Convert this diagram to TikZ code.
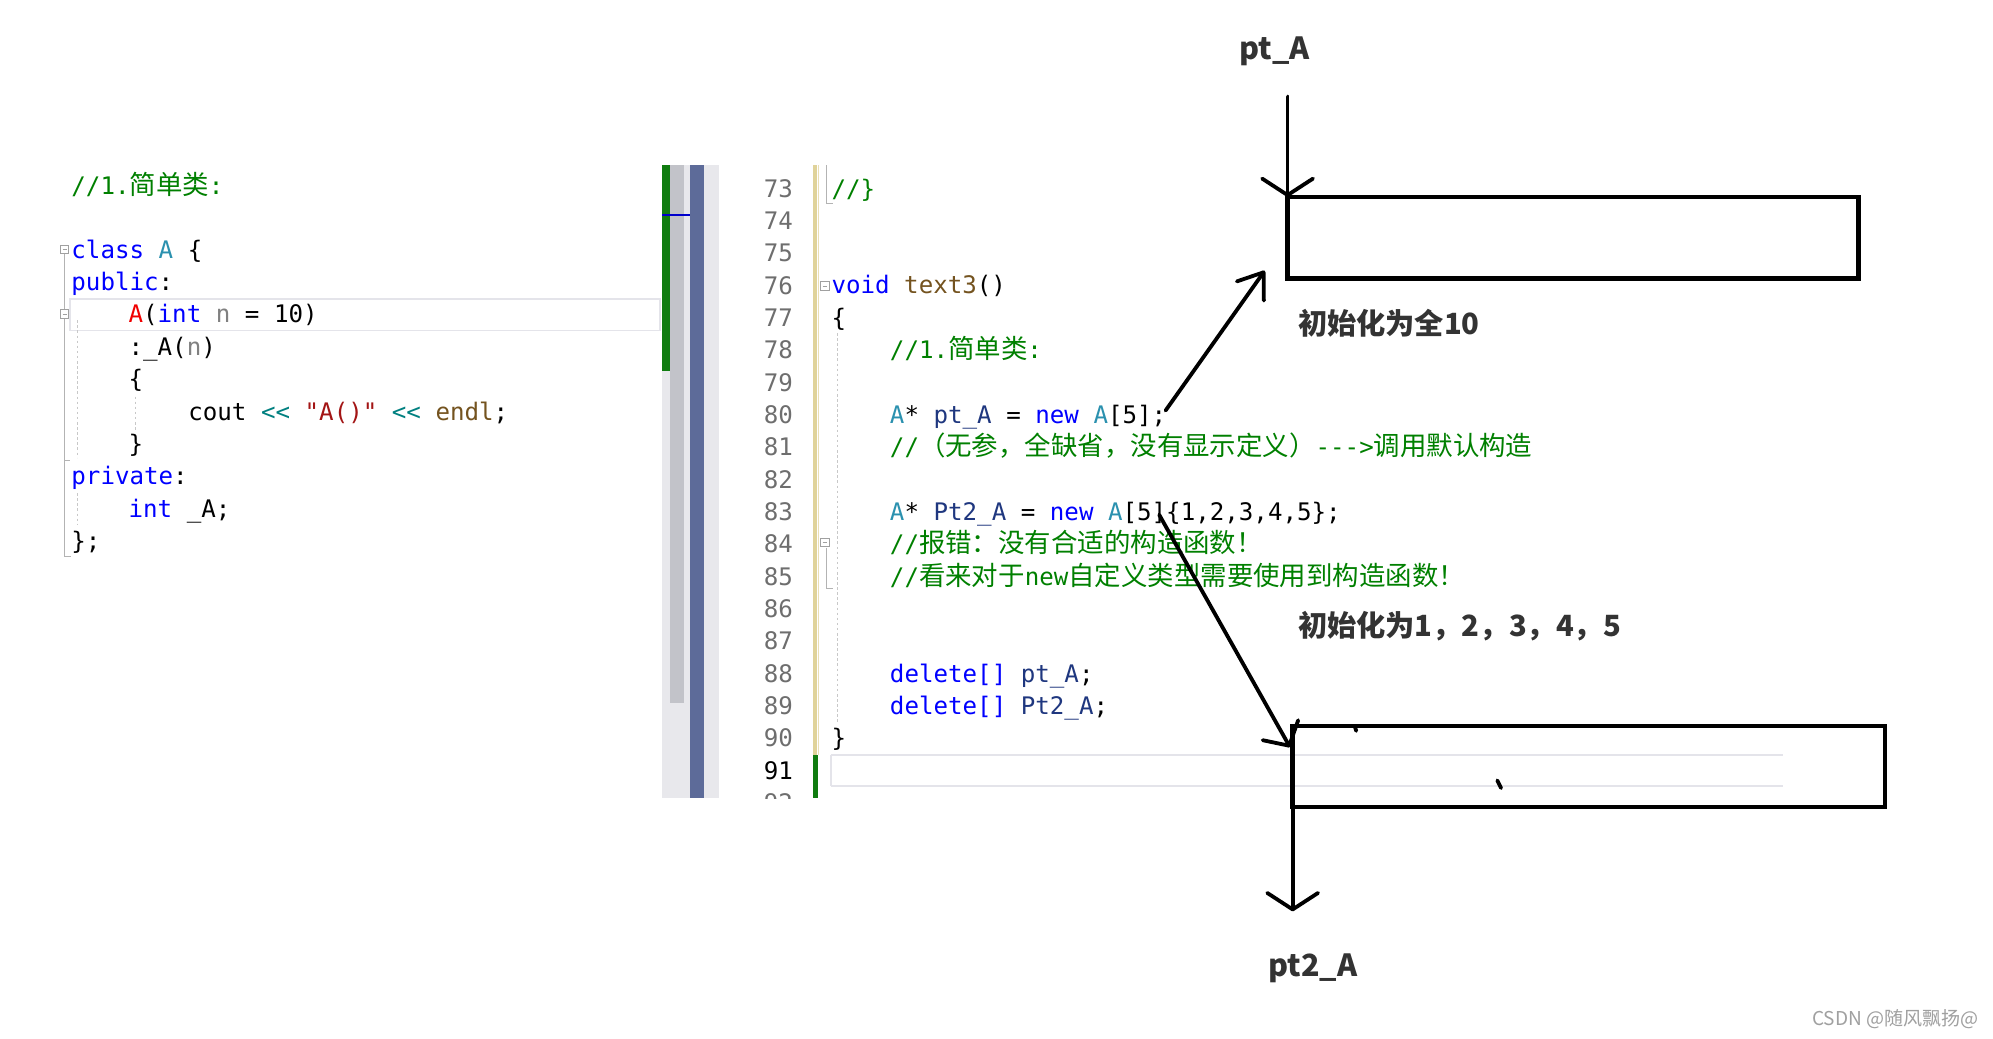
\documentclass[tikz,border=0pt]{standalone}
\usepackage{fontspec}
\setmainfont{DejaVu Sans}
\newfontfamily\mono{DejaVu Sans Mono}
\newfontfamily\cjk{Noto Sans CJK SC}
\usetikzlibrary{arrows.meta}
\definecolor{kw}{HTML}{0000FF}
\definecolor{ty}{HTML}{2B91AF}
\definecolor{cm}{HTML}{008000}
\definecolor{st}{HTML}{A31515}
\definecolor{fn}{HTML}{74531F}
\definecolor{op}{HTML}{008080}
\definecolor{pm}{HTML}{808080}
\definecolor{lv}{HTML}{1F377F}
\definecolor{ctorc}{HTML}{F00000}
\definecolor{lnc}{HTML}{6E6E6E}
\definecolor{labc}{HTML}{333333}
\definecolor{wmc}{HTML}{A0A0A0}
\definecolor{sbbg}{HTML}{E8E8EC}
\definecolor{sbgray}{HTML}{C2C3C9}
\definecolor{sbblue}{HTML}{5D6B99}
\definecolor{sbgreen}{HTML}{107C10}
\definecolor{sbmark}{HTML}{0000CC}
\definecolor{hlc}{HTML}{E4E4EA}
\definecolor{gutterc}{HTML}{E0D39A}
\definecolor{gutterl}{HTML}{EADFB5}
\definecolor{foldc}{HTML}{A0A0A0}
\definecolor{guidec}{HTML}{C8C8C8}
\newcommand\zh[1]{{\cjk\fontsize{20.8}{20.8}\selectfont #1}}
\tikzset{
  code/.style={anchor=base west, inner sep=0pt, font=\mono\fontsize{19}{19}\selectfont},
  lnum/.style={anchor=base east, inner sep=0pt, font=\mono\fontsize{19}{19}\selectfont, text=lnc},
  lab/.style={inner sep=0pt, text=labc, font=\cjk\bfseries\fontsize{24}{24}\selectfont},
  note/.style={anchor=west, inner sep=0pt, text=labc, font=\cjk\bfseries\fontsize{23}{23}\selectfont},
  membox/.style={draw=black, line width=3.5pt, inner sep=0pt, outer sep=0pt, minimum height=64pt},
  pen/.style={draw=black, line width=3pt, line cap=round},
  barbtip/.style={-{Straight Barb[length=13pt,width=40pt,round]}},
  hl/.style={draw=hlc, line width=1.5pt},
  guide/.style={draw=guidec, line width=0.8pt, dash pattern=on 2pt off 2pt},
  foldline/.style={draw=foldc!80, line width=0.8pt}
}
\begin{document}
\begin{tikzpicture}[x=1pt,y=-1pt]
\useasboundingbox (0,0) rectangle (1568,817);
\fill[white] (0,0) rectangle (1568,817);

% ---------- left editor ----------
\draw[hl] (55,235) rectangle (519,260);
\draw[foldline] (51,200) -- (51,438) -- (56,438);
\draw[foldline] (51,362) -- (55,362);
\draw[guide] (61,252) -- (61,360);
\draw[guide] (106.5,312) -- (106.5,338);
\draw[guide] (61,388) -- (61,413);
\foreach \fx/\fy in {51/196, 51/247, 649/225, 649/427} {
  \draw[draw=foldc, line width=0.7pt, fill=white] (\fx-3.2,\fy-3.2) rectangle (\fx+3.2,\fy+3.2);
  \draw[draw=foldc, line width=0.7pt] (\fx-1.8,\fy) -- (\fx+1.8,\fy);
}
\node[code] (l1) at (56,153) {\textcolor{cm}{//1.\zh{简单类}:}};
\node[code] (l2) at (56,203) {\textcolor{kw}{class} \textcolor{ty}{A} \{};
\node[code] (l3) at (56,228.5) {\textcolor{kw}{public}:};
\node[code] (l4) at (101,254) {\textcolor{ctorc}{A}(\textcolor{kw}{int} \textcolor{pm}{n} = 10)};
\node[code] (l5) at (101,279.5) {:\_A(\textcolor{pm}{n})};
\node[code] (l6) at (101,305) {\{};
\node[code] (l7) at (148,330.5) {cout \textcolor{op}{<<} \textcolor{st}{"A()"} \textcolor{op}{<<} \textcolor{fn}{endl};};
\node[code] (l8) at (101,356) {\}};
\node[code] (l9) at (56,381.5) {\textcolor{kw}{private}:};
\node[code] (l10) at (101,407) {\textcolor{kw}{int} \_A;};
\node[code] (l11) at (56,432.5) {\};};

% ---------- overview scrollbar ----------
\fill[sbbg] (521,130) rectangle (566,628);
\fill[sbgray] (527.5,130) rectangle (538,553);
\fill[sbblue] (543,130) rectangle (553.5,628);
\fill[sbgreen] (521,130) rectangle (527.5,292);
\draw[sbmark, line width=2pt] (521,169) -- (543,169);

% ---------- right editor ----------
\begin{scope}
\clip (570,130) rectangle (1568,628);
\foreach \n in {73,...,90,92} {
  \node[lnum] (ln\n) at (624,{155+(\n-73)*25.44}) {\n};
}
\node[lnum, text=black] (ln91) at (624,612.9) {91};
\end{scope}
\fill[gutterc] (639.7,130) rectangle (642.4,594);
\draw[gutterl, line width=1pt] (644,130) -- (644,594);
\fill[sbgreen] (640,594) rectangle (643.5,628);
\draw[foldline] (650.5,130) -- (650.5,160) -- (655,160);
\draw[foldline] (650.5,431) -- (650.5,463) -- (655,463);
\draw[guide] (658.6,262) -- (658.6,568);
\draw[hl] (654,594) -- (1403,594);
\draw[hl] (654,618.5) -- (1403,618.5);
\draw[hl] (654,594) -- (654,618.5);

\node[code] (r73) at (654,155) {\textcolor{cm}{//\}}};
\node[code] (r76) at (654,231.3) {\textcolor{kw}{void} \textcolor{fn}{text3}()};
\node[code] (r77) at (654,256.8) {\{};
\node[code] (r78) at (700,282.2) {\textcolor{cm}{//1.\zh{简单类}:}};
\node[code] (r80) at (700,333.1) {\textcolor{ty}{A}* \textcolor{lv}{pt\_A} = \textcolor{kw}{new} \textcolor{ty}{A}[5];};
\node[code] (r81) at (700,358.5) {\color{cm}//\zh{（无参，全缺省，没有显示定义）}--->\zh{调用默认构造}};
\node[code] (r83) at (700,409.4) {\textcolor{ty}{A}* \textcolor{lv}{Pt2\_A} = \textcolor{kw}{new} \textcolor{ty}{A}[5]\{1,2,3,4,5\};};
\node[code] (r84) at (700,434.8) {\color{cm}//\zh{报错：没有合适的构造函数！}};
\node[code] (r85) at (700,460.3) {\color{cm}//\zh{看来对于}new\zh{自定义类型需要使用到构造函数！}};
\node[code] (r88) at (700,536.6) {\textcolor{kw}{delete[]} \textcolor{lv}{pt\_A};};
\node[code] (r89) at (700,562) {\textcolor{kw}{delete[]} \textcolor{lv}{Pt2\_A};};
\node[code] (r90) at (654,587.5) {\}};

% ---------- hand-drawn memory sketch ----------
\node[membox, minimum width=449pt] (box1) at (1237.5,187) {};
\node[membox, minimum width=466pt] (box2) at (1250,603) {};

\node[lab] (ptA) at (1003,40) {pt\_A};
\node[lab] (pt2A) at (1033,762) {pt2\_A};
\node[note] (init10) at (1021,254) {初始化为全10};
\node[note] (init5) at (1021,493) {初始化为1，2，3，4，5};

\coordinate (ptAtail) at (1013,76);
\coordinate (a2tail) at (917,323);
\coordinate (a2tip) at (995,213);
\coordinate (a3tail) at (912,405);
\coordinate (a3tip) at (1015,588);
\coordinate (pt2tip) at (1017,717);

\draw[pen, barbtip] (ptAtail) -- (box1.north west);
\draw[pen, -{Straight Barb[length=18pt,width=26pt,round]}] (a2tail) -- (a2tip);
\draw[pen, -{Straight Barb[length=14pt,width=32pt,round]}] (a3tail) -- (a3tip);
\draw[pen, barbtip] (box2.south west) -- (pt2tip);

\draw[pen] (1066,572) -- (1067,575);
\draw[pen] (1178,614) -- (1181,620);

\node[anchor=east, inner sep=0pt, text=wmc, font=\cjk\fontsize{15}{15}\selectfont] (wm) at (1557,802) {CSDN @随风飘扬@};
\end{tikzpicture}
\end{document}
